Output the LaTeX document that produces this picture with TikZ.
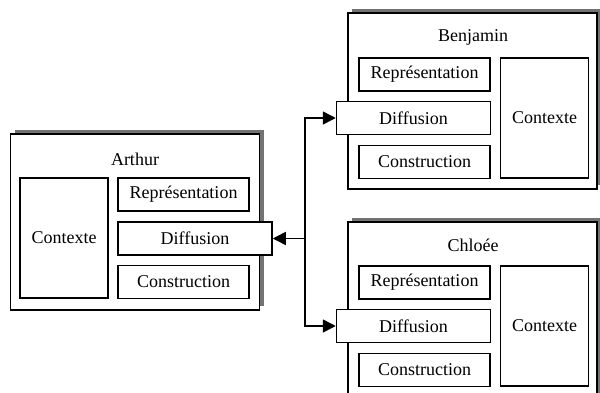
\documentclass[tikz,border=0pt]{standalone}
\usepackage{fontspec}
\setmainfont{Liberation Serif}
\usetikzlibrary{positioning,arrows.meta,shadows}

\begin{document}
\begin{tikzpicture}[x=0.5pt,y=-0.5pt,>={Triangle[length=6.5pt,width=6.5pt]},
    bloc/.style={draw,fill=white,line width=0.75pt,inner sep=0pt,font=\fontsize{9}{11}\selectfont},
    personne/.style={bloc,minimum width=124.5pt,minimum height=88pt,
        drop shadow={shadow xshift=2pt,shadow yshift=2pt,fill=black!55,opacity=1}},
    petit/.style={bloc,minimum width=65.5pt,minimum height=16.5pt},
    diff/.style={bloc,minimum width=77pt,minimum height=16.5pt},
    ctx/.style={bloc,minimum width=44pt,minimum height=60pt},
    nom/.style={inner sep=0pt,font=\fontsize{9}{11}\selectfont}]

    \useasboundingbox (0,0) rectangle (600,392);

    % Arthur
    \node[personne] (arthur) at (135,222) {};
    \node[nom] (arthur-nom) at (135,159) {Arthur};
    \node[ctx] (arthur-ctx) at (64,238) {Contexte};
    \node[petit] (arthur-rep) at (183.5,194.5) {Représentation};
    \node[diff] (arthur-diff) at (195,238.5) {Diffusion};
    \node[petit] (arthur-cons) at (183.5,282) {Construction};

    % Benjamin
    \node[personne] (benj) at (472.5,101) {};
    \node[nom] (benj-nom) at (473,37) {Benjamin};
    \node[petit] (benj-rep) at (424.5,74.5) {Représentation};
    \node[diff] (benj-diff) at (413.5,118) {Diffusion};
    \node[petit] (benj-cons) at (424.5,162) {Construction};
    \node[ctx] (benj-ctx) at (544.5,118) {Contexte};

    % Chloee
    \node[personne] (chloe) at (472.5,310) {};
    \node[nom] (chloe-nom) at (473,245) {Chloée};
    \node[petit] (chloe-rep) at (424.5,282.5) {Représentation};
    \node[diff] (chloe-diff) at (413.5,326) {Diffusion};
    \node[petit] (chloe-cons) at (424.5,370) {Construction};
    \node[ctx] (chloe-ctx) at (544.5,326) {Contexte};

    % Connexions
    \coordinate (jonction) at (305,238.5);
    \draw[->,line width=0.75pt] (jonction) -- (arthur-diff.east);
    \draw[->,line width=0.75pt] (jonction) |- (benj-diff.west);
    \draw[->,line width=0.75pt] (jonction) |- (chloe-diff.west);
\end{tikzpicture}
\end{document}
